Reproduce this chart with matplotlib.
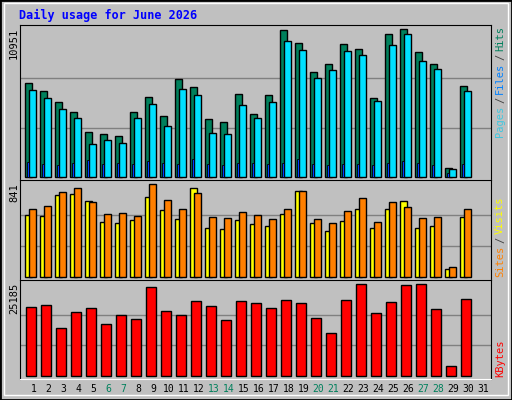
import numpy as np
import matplotlib.pyplot as plt
from matplotlib.patches import Rectangle

days = np.arange(1, 31)
hits = [6938, 6344, 5526, 4783, 3296, 3147, 2998, 4783, 5898, 4485, 7236, 6641, 4262, 4039, 6121,
        4634, 6046, 10878, 9912, 7756, 8351, 9838, 9466, 5823, 10581, 10951, 9243, 8351, 620, 6715]
files = [6418, 5823, 5006, 4337, 2404, 2701, 2478, 4337, 5377, 3742, 6492, 6046, 3221, 3147, 5303,
         4337, 5526, 10061, 9392, 7310, 7905, 9317, 9020, 5600, 9763, 10581, 8574, 7979, 545, 6344]
pages = [1066, 917, 843, 991, 1214, 917, 991, 917, 1140, 991, 917, 1288, 917, 843, 991,
         991, 917, 991, 1288, 917, 843, 917, 917, 843, 991, 1140, 991, 843, 248, 917]
visits = [558, 549, 741, 750, 686, 498, 489, 516, 723, 604, 522, 805, 443, 434, 516,
          480, 462, 568, 777, 489, 413, 504, 613, 443, 613, 686, 443, 462, 67, 540]
sites = [613, 640, 768, 805, 677, 568, 577, 549, 841, 695, 613, 759, 540, 531, 589,
         558, 522, 613, 777, 522, 486, 595, 714, 495, 677, 631, 531, 540, 85, 613]
kbytes = [19020, 19572, 13231, 17642, 18745, 14335, 16816, 15714, 24543, 17918, 16816, 20675, 19296, 15438, 20675,
          20124, 18745, 20951, 20124, 15989, 11853, 20951, 25185, 17366, 20400, 24910, 25185, 18469, 2573, 21226]
weekend = [6, 7, 13, 14, 20, 21, 27, 28]

W, H = 512, 400
BG = "#c0c0c0"
fig = plt.figure(figsize=(W / 100, H / 100), dpi=100, facecolor=BG)
plt.rcParams['font.family'] = ['DejaVu Sans Mono']

def px(x, y):
    return x / W, 1 - y / H

def panel(top, bottom, vmax, base_px, max_px):
    l, t = px(20, top)
    r, b = px(491, bottom)
    ax = fig.add_axes([l, b, r - l, t - b])
    ax.set_facecolor(BG)
    scale = vmax / (base_px - max_px)  # value per px
    ax.set_ylim(-(bottom - base_px) * scale, vmax + (max_px - top) * scale)
    ax.set_xlim(0.297, 0.297 + 471 / 15)
    for f in (1 / 3, 2 / 3):
        ax.axhline(vmax * f, color="#808080", lw=1, zorder=0)
    ax.set_xticks([]); ax.set_yticks([])
    for s in ax.spines.values():
        s.set_color("black")
    ax.spines["bottom"].set_color("white")
    return ax

def bars(ax, off, w, vals, col, lw=1):
    ax.bar(days + off, vals, w, align="edge", color=col, edgecolor="black", linewidth=lw, zorder=2)

ax1 = panel(25, 180, max(hits), 176.7, 29.3)
bars(ax1, -0.367, 0.467, hits, "#00805c")
bars(ax1, -0.1, 0.467, files, "#00e0ff")
bars(ax1, -0.25, 0.15, pages, "#0040ff", lw=0.6)

ax2 = panel(180, 280, max(sites), 276.7, 184.3)
bars(ax2, -0.367, 0.467, visits, "#ffff00")
bars(ax2, -0.1, 0.467, sites, "#ff8000")

ax3 = panel(280, 379, max(kbytes), 375.7, 284.3)
bars(ax3, -0.3, 0.667, kbytes, "#ff0000")

for d in range(1, 32):
    x = (25.3 + 15 * (d - 1) + 8) / W
    fig.text(x, px(0, 389)[1], str(d), ha="center", va="center", fontsize=7,
             color="#00805c" if d in weekend else "black")

fig.text(*px(19, 15), "Daily usage for June 2026", color="#0000ff", fontsize=8.5,
         fontweight="bold", va="center", ha="left")

for txt, y in [("10951", 28), ("841", 183), ("25185", 283)]:
    fig.text(*px(14, y), txt, rotation=90, ha="center", va="top", fontsize=7.5)

def rlab(parts, ybottom):
    y = ybottom
    for txt, col in parts:
        fig.text(*px(500, y), txt, rotation=90, ha="center", va="bottom", fontsize=7.5,
                 color=col)
        y -= 6.2 * len(txt) + 3

rlab([("Pages", "#40c8e0"), ("/", "#404040"), ("Files", "#0080ff"), ("/", "#404040"), ("Hits", "#00805c")], 137)
rlab([("Sites", "#ff8000"), ("/", "#404040"), ("Visits", "#ffff00")], 277)
rlab([("KBytes", "#ff0000")], 377)

# frame bevel
fig.patches.append(Rectangle((0, 0), 1, 1, transform=fig.transFigure, fill=False,
                             edgecolor="black", lw=2))
fig.patches.append(Rectangle(px(4, 395), (W - 8) / W, (H - 8) / H, transform=fig.transFigure,
                             fill=False, edgecolor="white", lw=1))

fig.savefig("out.png", dpi=100, facecolor=BG)
